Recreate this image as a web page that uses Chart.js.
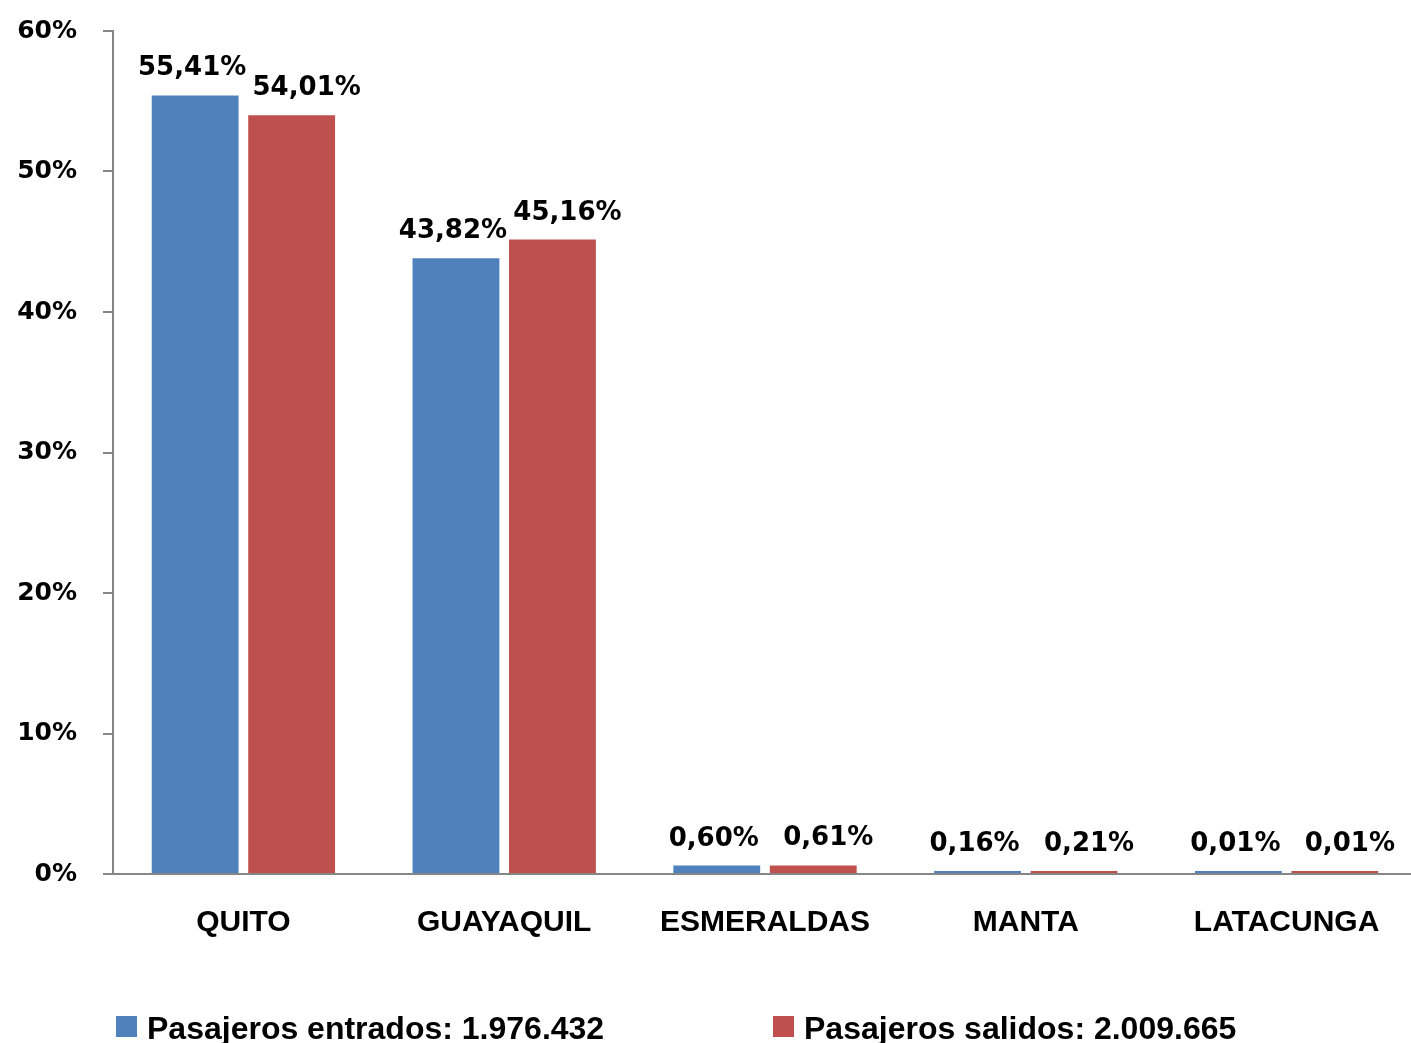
<!DOCTYPE html>
<html>
<head>
<meta charset="utf-8">
<script src="https://cdn.jsdelivr.net/npm/chart.js@4.4.0/dist/chart.umd.min.js"></script>
<style>
  html, body { margin: 0; padding: 0; background: #fff; overflow: hidden; }
  #wrap { width: 1420px; height: 1043px; }
</style>
</head>
<body>
<div id="wrap"><canvas id="chart" width="1420" height="1043"></canvas></div>
<script>
// Datos
const ciudades = ['QUITO', 'GUAYAQUIL', 'ESMERALDAS', 'MANTA', 'LATACUNGA'];
const entrados = [55.41, 43.82, 0.60, 0.16, 0.01];
const salidos = [54.01, 45.16, 0.61, 0.21, 0.01];
const nombresSeries = ['Pasajeros entrados: 1.976.432', 'Pasajeros salidos: 2.009.665'];
const yTicks = [0, 10, 20, 30, 40, 50, 60];

const AZUL = '#4F81BD';
const ROJO = '#C0504D';
const GRIS = '#868686';
const NUM_FONT = 'bold 26px "DejaVu Sans"';

const fmt = v => v.toFixed(2).replace('.', ',') + '%';

// value labels above each bar
const etiquetasPlugin = {
    id: 'etiquetas',
    afterDatasetsDraw(chart, args, opts) {
        const ctx = chart.ctx;
        ctx.save();
        ctx.font = opts.font;
        ctx.fillStyle = '#000';
        ctx.textAlign = 'center';
        ctx.textBaseline = 'alphabetic';
        chart.data.datasets.forEach((ds, i) => {
            chart.getDatasetMeta(i).data.forEach((bar, j) => {
                ctx.fillText(fmt(ds.data[j]), bar.x + opts.shift[i], bar.y - opts.gap);
            });
        });
        ctx.restore();
    }
};

// legend drawn at the bottom edge
const leyendaPlugin = {
    id: 'leyenda',
    afterDraw(chart, args, opts) {
        const ctx = chart.ctx;
        ctx.save();
        ctx.font = opts.font;
        ctx.textAlign = 'left';
        ctx.textBaseline = 'alphabetic';
        chart.data.datasets.forEach((ds, i) => {
            const x = opts.x[i];
            ctx.fillStyle = ds.backgroundColor;
            ctx.fillRect(x, opts.boxTop, opts.box, opts.box);
            ctx.fillStyle = '#000';
            ctx.fillText(ds.label, x + opts.box + 10, opts.baseline);
        });
        ctx.restore();
    }
};

const ctx = document.getElementById('chart').getContext('2d');
new Chart(ctx, {
    type: 'bar',
    data: {
        labels: ciudades,
        datasets: [
            { label: nombresSeries[0], data: entrados, backgroundColor: AZUL },
            { label: nombresSeries[1], data: salidos, backgroundColor: ROJO }
        ]
    },
    options: {
        responsive: false,
        animation: false,
        categoryPercentage: 0.74,
        barPercentage: 0.9,
        minBarLength: 3,
        layout: { padding: { top: 31, left: 15, right: 3, bottom: 100 } },
        scales: {
            x: {
                grid: { display: true, drawOnChartArea: false, drawTicks: false },
                border: { display: true, color: GRIS, width: 2 },
                ticks: {
                    color: '#000',
                    padding: 31,
                    font: { family: 'Liberation Sans', size: 30, weight: 'bold' }
                },
                afterFit: s => { s.height = 69; }
            },
            y: {
                min: 0,
                max: 60,
                afterBuildTicks: s => { s.ticks = yTicks.map(v => ({ value: v })); },
                grid: { drawOnChartArea: false, drawTicks: true, tickLength: 10, color: GRIS, lineWidth: 2 },
                border: { display: true, color: GRIS, width: 2 },
                ticks: {
                    color: '#000',
                    padding: 26,
                    // small lineHeight so the top label does not push the plot down
                    font: { family: 'DejaVu Sans', size: 25, weight: 'bold', lineHeight: 0.4 },
                    callback: v => v + '%'
                },
                afterFit: s => { s.width = 98; }
            }
        },
        plugins: {
            legend: { display: false },
            tooltip: { enabled: false },
            etiquetas: { font: NUM_FONT, shift: [-3, 15], gap: 20 },
            leyenda: {
                font: 'bold 32px "Liberation Sans"',
                x: [116, 773],
                box: 21,
                boxTop: 1016,
                baseline: 1039
            }
        }
    },
    plugins: [etiquetasPlugin, leyendaPlugin]
});
</script>
</body>
</html>
